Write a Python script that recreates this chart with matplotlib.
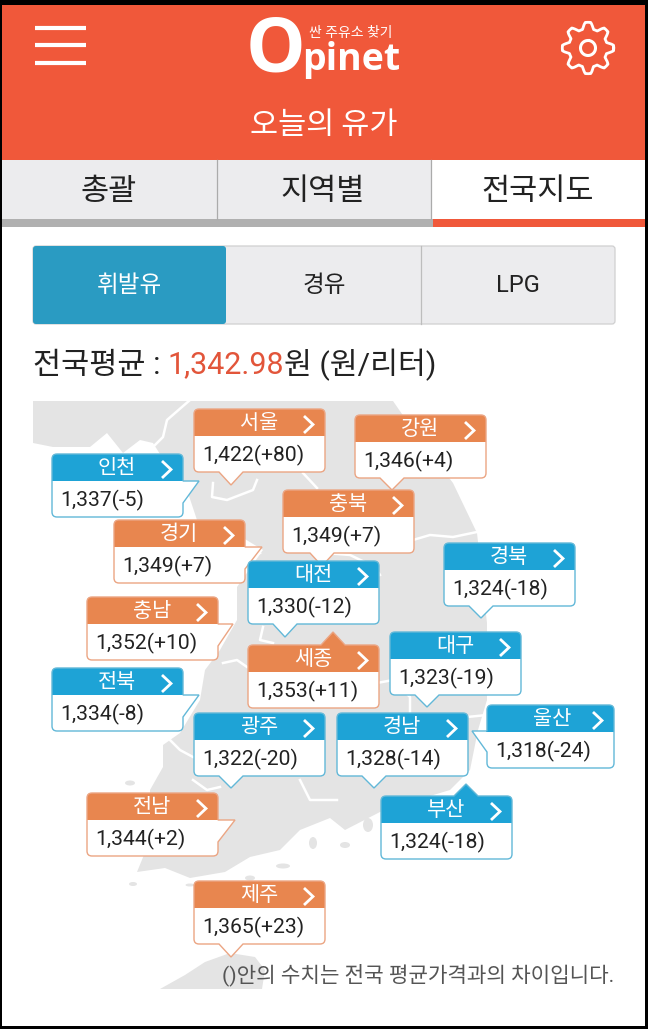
import matplotlib

matplotlib.use("Agg")
import matplotlib.pyplot as plt
import numpy as np
from matplotlib.patches import Ellipse, FancyBboxPatch, PathPatch, Polygon, Rectangle
from matplotlib.path import Path

plt.rcParams["font.family"] = ["Roboto", "Noto Sans CJK KR", "DejaVu Sans"]

regions = ["서울", "강원", "인천", "충북", "경기", "경북", "대전", "충남", "대구",
           "세종", "전북", "울산", "광주", "경남", "부산", "전남", "제주"]
prices = [1422, 1346, 1337, 1349, 1349, 1324, 1330, 1352, 1323,
          1353, 1334, 1318, 1322, 1328, 1324, 1344, 1365]
diffs = [80, 4, -5, 7, 7, -18, -12, 10, -19, 11, -8, -24, -20, -14, -18, 2, 23]
national_avg = "1,342.98"
top_tabs = ["총괄", "지역별", "전국지도"]
fuel_tabs = ["휘발유", "경유", "LPG"]

# callout layout in screen pixels: left, top, width, tip side, tip x, tip y
callouts = [
    (194, 409, 131, "b", 231, 485), (355, 415, 131, "b", 392, 490), (52, 454, 131, "r", 199, 481),
    (283, 490, 131, "b", 322, 566), (114, 520, 131, "r", 262, 547), (444, 543, 131, "b", 481, 618),
    (248, 561, 131, "b", 285, 637), (87, 597, 131, "r", 233, 624), (390, 632, 131, "b", 427, 707),
    (248, 645, 131, "t", 333, 632), (52, 668, 131, "r", 199, 695), (487, 705, 127, "l", 472, 731),
    (194, 713, 131, "b", 231, 788), (337, 713, 131, "b", 374, 788), (381, 796, 131, "t", 466, 784),
    (87, 793, 131, "r", 235, 820), (194, 881, 131, "b", 231, 957),
]

land = [(33, 401), (393, 401), (420, 440), (453, 483), (477, 533), (487, 623), (487, 700),
        (478, 730), (470, 770), (450, 790), (400, 805), (380, 812), (345, 830), (330, 818),
        (300, 830), (280, 850), (250, 857), (225, 872), (190, 878), (165, 868), (137, 872),
        (150, 840), (150, 790), (163, 767), (163, 745), (180, 733), (200, 700), (205, 670),
        (220, 650), (237, 620), (237, 587), (263, 550), (230, 530), (197, 520), (187, 490),
        (170, 470), (153, 443), (140, 440), (123, 453), (107, 433), (90, 447), (53, 447),
        (33, 443)]
jeju = [(160, 989), (185, 975), (205, 962), (230, 953), (255, 957), (265, 970), (262, 989)]
border_lines = [
    [(190, 400), (167, 420), (163, 437), (150, 450)],
    [(213, 483), (212, 497), (227, 500), (253, 490), (257, 480)],
    [(303, 473), (317, 488)],
    [(413, 540), (430, 535), (453, 537), (477, 532)],
    [(325, 553), (350, 555), (375, 567), (380, 575)],
    [(260, 553), (247, 560)],
    [(263, 627), (260, 640), (273, 643)],
    [(223, 663), (237, 660), (247, 667)],
    [(163, 733), (180, 750), (193, 757)],
    [(193, 780), (207, 790), (220, 787)],
    [(300, 780), (310, 800), (337, 800)],
    [(377, 683), (393, 680), (410, 697), (410, 712)],
    [(467, 717), (487, 715)],
]
islands = [(133, 884, 8, 4), (250, 878, 10, 5), (313, 843, 8, 12), (283, 866, 14, 5),
           (190, 885, 9, 3), (130, 783, 10, 5), (345, 845, 10, 6), (368, 825, 10, 14)]

RED = "#F0583A"
ORANGE = "#E8864F"
ORANGE_EDGE = "#EBA583"
BLUE = "#1EA3D6"
BLUE_EDGE = "#62B8D8"
TAB_GREY = "#ECECEE"
MAP_GREY = "#E4E4E4"
INK = "#222222"
BOX_H, HEAD_H = 63, 27


def callout_path(x, y, w, side, tx, ty):
    # rounded box outline, clockwise from the top left, with the pointer spliced in
    r = 5
    x1, y1 = x + w, y + BOX_H
    mid = y + HEAD_H
    verts = [(x + r, y)]
    if side == "t":
        verts += [(tx - 12, y), (tx, ty), (tx + 12, y)]
    verts += [(x1 - r, y)]
    codes = [Path.MOVETO] + [Path.LINETO] * (len(verts) - 1)
    verts += [(x1, y), (x1, y + r)]
    codes += [Path.CURVE3, Path.CURVE3]
    if side == "r":
        verts += [(x1, mid), (tx, ty), (x1, mid + 22)]
        codes += [Path.LINETO] * 3
    verts += [(x1, y1 - r)]
    codes += [Path.LINETO]
    verts += [(x1, y1), (x1 - r, y1)]
    codes += [Path.CURVE3, Path.CURVE3]
    if side == "b":
        verts += [(tx + 12, y1), (tx, ty), (tx - 12, y1)]
        codes += [Path.LINETO] * 3
    verts += [(x + r, y1)]
    codes += [Path.LINETO]
    verts += [(x, y1), (x, y1 - r)]
    codes += [Path.CURVE3, Path.CURVE3]
    if side == "l":
        verts += [(x, mid + 20), (tx, ty), (x, ty)]
        codes += [Path.LINETO] * 3
    verts += [(x, y + r)]
    codes += [Path.LINETO]
    verts += [(x, y), (x + r, y)]
    codes += [Path.CURVE3, Path.CURVE3]
    return Path(verts, codes)


def draw_callout(ax, name, price, diff, layout):
    x, y, w, side, tx, ty = layout
    fill, edge = (ORANGE, ORANGE_EDGE) if diff > 0 else (BLUE, BLUE_EDGE)
    path = callout_path(x, y, w, side, tx, ty)
    body = PathPatch(path, facecolor="white", edgecolor="none", zorder=3)
    ax.add_patch(body)
    head_top = ty - 2 if side == "t" else y
    head = Rectangle((x - 1, head_top), w + 2, y + HEAD_H - head_top,
                     facecolor=fill, edgecolor="none", zorder=3)
    ax.add_patch(head)
    head.set_clip_path(body)
    ax.add_patch(PathPatch(path, facecolor="none", edgecolor=edge, lw=1.0, zorder=3))
    ax.text(x + 65, y + 14.5, name, color="white", fontsize=15, ha="center", va="center", zorder=4)
    cx = x + w - 21
    ax.plot([cx, cx + 9, cx], [y + 7, y + 15.5, y + 24], color="white", lw=2.0, zorder=4,
            solid_joinstyle="miter", solid_capstyle="butt")
    ax.text(x + 8, y + 46.5, f"{price:,}({diff:+d})", color=INK, fontsize=15.2, ha="left",
            va="center", zorder=4)


def draw_gear(ax, cx, cy):
    t = np.linspace(0, 2 * np.pi, 361)
    r = 22.5 + 3.2 * np.clip(1.5 * np.cos(8 * (t + np.pi / 2)), -1, 1)
    ax.plot(cx + r * np.cos(t), cy + r * np.sin(t), color="white", lw=2.0, zorder=3)
    a = np.linspace(-0.4 * np.pi, 1.5 * np.pi, 80)
    ax.plot(cx + 7.5 * np.cos(a), cy + 7.5 * np.sin(a), color="white", lw=2.2, zorder=3)


fig = plt.figure(figsize=(6.48, 10.29), dpi=100, facecolor="black")
ax = fig.add_axes([0, 0, 1, 1])
ax.set_xlim(0, 648)
ax.set_ylim(1029, 0)
ax.axis("off")

# page
ax.add_patch(Rectangle((2, 5), 643, 1021, facecolor="white", edgecolor="none", zorder=0))
ax.add_patch(Rectangle((2, 5), 643, 155, facecolor=RED, edgecolor="none", zorder=1))

# header
for y in [28, 45, 63]:
    ax.plot([35, 86], [y, y], color="white", lw=3.0, solid_capstyle="butt", zorder=3)
ax.text(246, 72, "O", color="white", fontsize=54, fontweight="bold", ha="left", va="baseline",
        family=["Open Sans", "DejaVu Sans"], zorder=3)
ax.text(302, 70, "pinet", color="white", fontsize=27, fontweight="bold", ha="left", va="baseline",
        family=["Open Sans", "DejaVu Sans"], zorder=3)
ax.text(351, 33, "싼 주유소 찾기", color="white", fontsize=10, ha="center", va="center", zorder=3)
draw_gear(ax, 588, 48)
ax.text(324, 125, "오늘의 유가", color="white", fontsize=22, ha="center", va="center",
        family=["Noto Sans CJK KR"], fontweight="light", zorder=3)

# top tabs
ax.add_patch(Rectangle((2, 160), 430, 59, facecolor=TAB_GREY, edgecolor="none", zorder=1))
ax.add_patch(Rectangle((2, 219), 431, 8, facecolor="#B0B0B0", edgecolor="none", zorder=1))
ax.add_patch(Rectangle((433, 219), 212, 8, facecolor=RED, edgecolor="none", zorder=1))
for x in [217, 431]:
    ax.plot([x, x], [160, 219], color="#ABABAB", lw=0.9, zorder=2)
for label, x in zip(top_tabs, [109, 323, 538]):
    ax.text(x, 191, label, color=INK, fontsize=22, ha="center", va="center", zorder=3)

# fuel tabs
ax.add_patch(FancyBboxPatch((33, 246), 582, 78, boxstyle="round,pad=0,rounding_size=3",
                            facecolor=TAB_GREY, edgecolor="#D0D0D0", lw=0.9, zorder=1))
ax.add_patch(FancyBboxPatch((33, 246), 193, 78, boxstyle="round,pad=0,rounding_size=3",
                            facecolor="#2A9BC2", edgecolor="none", zorder=2))
ax.plot([421, 421], [246, 324], color="#BDBDBD", lw=0.9, zorder=2)
for label, x, c in zip(fuel_tabs, [129, 324, 518], ["white", INK, INK]):
    ax.text(x, 286, label, color=c, fontsize=17, ha="center", va="center", zorder=3)

# national average line
ax.text(33, 365, "전국평균 :", color=INK, fontsize=22, ha="left", va="center", zorder=3)
ax.text(167, 365, national_avg, color="#E2553A", fontsize=22, ha="left", va="center", zorder=3)
ax.text(284, 365, "원 (원/리터)", color=INK, fontsize=21.8, ha="left", va="center", zorder=3)

# map
ax.add_patch(Polygon(land, closed=True, facecolor=MAP_GREY, edgecolor="none", zorder=1))
ax.add_patch(Polygon(jeju, closed=True, facecolor=MAP_GREY, edgecolor="none", zorder=1))
for ex, ey, ew, eh in islands:
    ax.add_patch(Ellipse((ex, ey), ew, eh, facecolor=MAP_GREY, edgecolor="none", zorder=1))
for line in border_lines:
    xs, ys = zip(*line)
    ax.plot(xs, ys, color="white", lw=1.8, zorder=2)

for name, price, diff, layout in zip(regions, prices, diffs, callouts):
    draw_callout(ax, name, price, diff, layout)

ax.text(614, 975, "()안의 수치는 전국 평균가격과의 차이입니다.", color="#555555", fontsize=15.3,
        ha="right", va="center", zorder=4)

fig.savefig("out.png", dpi=100, facecolor="black")
